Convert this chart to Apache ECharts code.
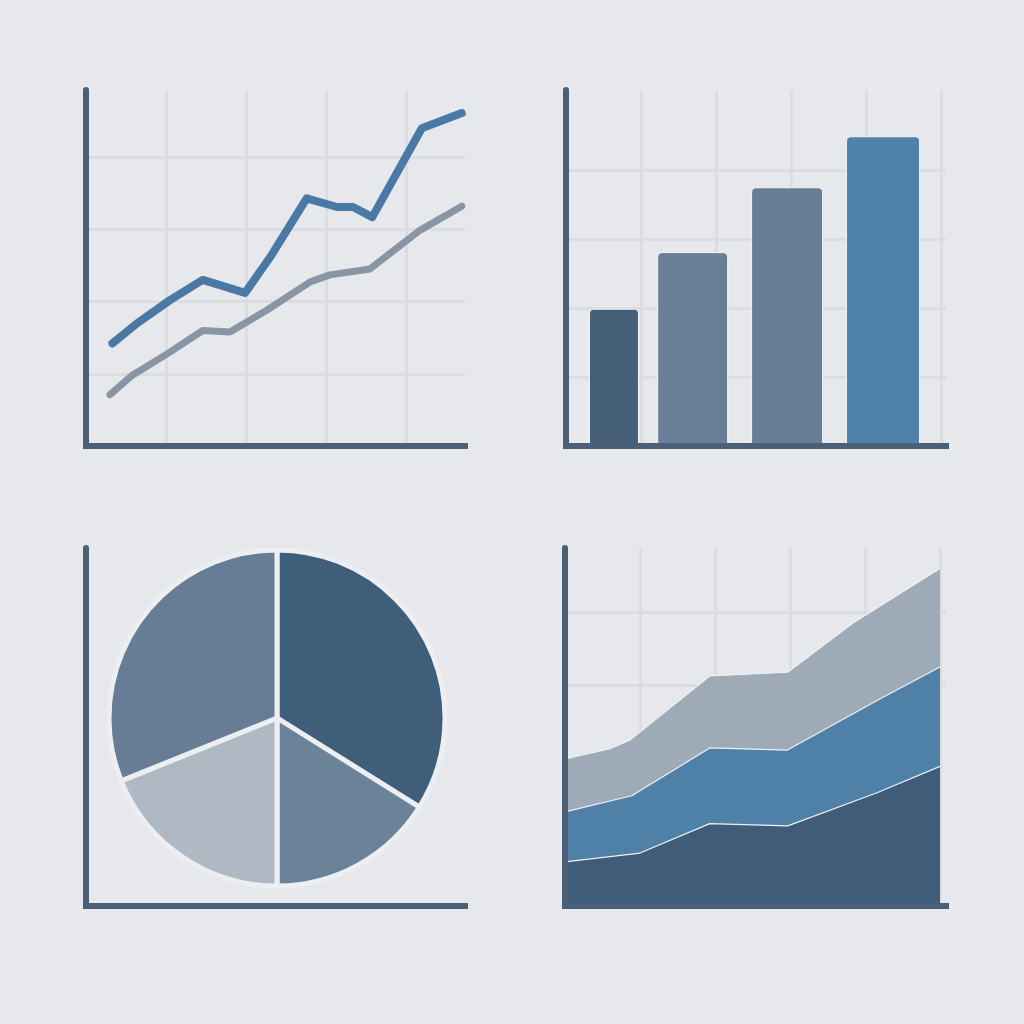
<!DOCTYPE html>
<html><head><meta charset="utf-8">
<script src="https://cdn.jsdelivr.net/npm/echarts@6/dist/echarts.min.js"></script>
<style>html,body{margin:0;padding:0;background:#e6e8eb}#c{width:1024px;height:1024px}</style>
</head><body><div id="c"></div>
<script>
// ---- data ----
const trendBlueX = [0.33, 0.64, 1.05, 1.46, 1.99, 2.30, 2.76, 3.14, 3.34, 3.58, 4.20, 4.70];
const trendBlueY = [1.42, 1.70, 2.02, 2.30, 2.12, 2.61, 3.43, 3.31, 3.31, 3.17, 4.40, 4.61];
const trendGrayX = [0.30, 0.58, 1.05, 1.46, 1.80, 2.26, 2.80, 3.05, 3.55, 4.18, 4.70];
const trendGrayY = [0.71, 0.98, 1.30, 1.60, 1.58, 1.88, 2.27, 2.37, 2.45, 2.99, 3.32];

const barX = [0.64, 1.69, 2.95, 4.23];
const barValues = [1.99, 2.81, 3.75, 4.49];

const pieValues = [33.9, 16.1, 18.9, 31.1];

const areaTopX = [0, 0.60, 0.87, 1.93, 2.97, 3.84, 5.00];
const areaTopY = [2.00, 2.14, 2.26, 3.13, 3.18, 3.85, 4.59];
const areaMidX = [0, 0.89, 1.93, 2.96, 4.24, 5.00];
const areaMidY = [1.28, 1.50, 2.15, 2.12, 2.84, 3.25];
const areaBaseX = [0, 1.00, 1.93, 2.97, 4.16, 5.00];
const areaBaseY = [0.60, 0.72, 1.12, 1.09, 1.54, 1.90];

// ---- styles ----
const AXIS = '#4b5f77', GRIDC = '#d8dbe0', NONE = 'rgba(0,0,0,0)';
const barColors = ['#465f78', '#687f97', '#687e95', '#4f81a9'];
const barWidths = [50, 71, 72, 74];
const pieColors = ['#3f5e79', '#6c8299', '#aeb9c4', '#667d95'];
const areaColors = ['#9eabb7', '#4f80a8', '#3f5d78'];

const zip = (xs, ys) => xs.map((x, i) => [x, ys[i]]);

const grids = [
  {left: 86, top: 90, width: 379, height: 356},
  {left: 566, top: 90, width: 380, height: 356},
  {left: 86, top: 548, width: 379, height: 358},
  {left: 565, top: 548, width: 381, height: 358}
].map(g => Object.assign({outerBoundsMode: 'none', containLabel: false}, g));

// visible split lines: which integer ticks get a grid line (others transparent)
const scales = [
  {xmax: 4.74, ymax: 4.93, xLines: [1, 2, 3, 4], yLines: [1, 2, 3, 4]},
  {xmax: 5.07, ymax: 5.16, xLines: [1, 2, 3, 4, 5], yLines: [1, 2, 3, 4]},
  {xmax: 1, ymax: 1, xLines: [], yLines: []},
  {xmax: 5.08, ymax: 4.87, xLines: [1, 2, 3, 4, 5], yLines: [3, 4]}
];

function lineColors(max, shown) {
  const ticks = [];
  for (let t = 0; t <= max + 1e-9; t++) ticks.push(t);
  if (Math.abs(ticks[ticks.length - 1] - max) > 1e-6) ticks.push(max);
  return ticks.map(t => shown.indexOf(t) >= 0 ? GRIDC : NONE);
}

const xAxes = [], yAxes = [], splitX = [], splitY = [];
const hidden = {axisLine: {show: false}, axisTick: {show: false}, axisLabel: {show: false}};
scales.forEach((s, g) => {
  splitX[g] = xAxes.length;
  xAxes.push(Object.assign({type: 'value', gridIndex: g, position: 'bottom', min: 0, max: s.xmax, interval: 1,
    splitLine: {show: s.xLines.length > 0, lineStyle: {color: lineColors(s.xmax, s.xLines), width: 2.5}}}, hidden));
  xAxes.push({type: 'value', gridIndex: g, position: 'bottom', offset: 0, min: 0, max: s.xmax, interval: 1, z: 10,
    axisLine: {show: true, onZero: false, lineStyle: {color: AXIS, width: 6, cap: 'square'}},
    axisTick: {show: false}, axisLabel: {show: false}, splitLine: {show: false}});
  splitY[g] = yAxes.length;
  yAxes.push(Object.assign({type: 'value', gridIndex: g, position: 'left', min: 0, max: s.ymax, interval: 1,
    splitLine: {show: s.yLines.length > 0, lineStyle: {color: lineColors(s.ymax, s.yLines), width: 2.5}}}, hidden));
  yAxes.push({type: 'value', gridIndex: g, position: 'left', offset: 0, min: 0, max: s.ymax, interval: 1, z: 10,
    axisLine: {show: true, onZero: false, lineStyle: {color: AXIS, width: 6}},
    axisTick: {show: false}, axisLabel: {show: false}, splitLine: {show: false}});
});

// hidden x axes for each bar (so each bar keeps its own width)
const barAxisIdx = barX.map(() => {
  const idx = xAxes.length;
  xAxes.push(Object.assign({type: 'value', gridIndex: 1, position: 'bottom', min: 0, max: scales[1].xmax, show: false,
    splitLine: {show: false}}, hidden));
  return idx;
});

const series = [];
// top-left lines
series.push({type: 'line', xAxisIndex: splitX[0], yAxisIndex: splitY[0], data: zip(trendGrayX, trendGrayY),
  symbol: 'none', lineStyle: {color: '#8795a5', width: 7, cap: 'round', join: 'round'}});
series.push({type: 'line', xAxisIndex: splitX[0], yAxisIndex: splitY[0], data: zip(trendBlueX, trendBlueY),
  symbol: 'none', lineStyle: {color: '#4a79a5', width: 8, cap: 'round', join: 'round'}});
// top-right bars
barX.forEach((x, i) => {
  series.push({type: 'bar', xAxisIndex: barAxisIdx[i], yAxisIndex: splitY[1], barWidth: barWidths[i],
    data: [[x, barValues[i]]],
    itemStyle: {color: barColors[i], borderColor: '#f2f4f6', borderWidth: 1, borderRadius: [4, 4, 0, 0]}});
});
// bottom-left pie
series.push({type: 'pie', center: [277, 718], radius: 168, startAngle: 90, clockwise: true,
  label: {show: false}, labelLine: {show: false}, silent: true,
  itemStyle: {borderColor: '#eceef1', borderWidth: 5},
  data: pieValues.map((v, i) => ({value: v, itemStyle: {color: pieColors[i]}}))});
// bottom-right areas
[[areaTopX, areaTopY], [areaMidX, areaMidY], [areaBaseX, areaBaseY]].forEach(([xs, ys], i) => {
  series.push({type: 'line', xAxisIndex: splitX[3], yAxisIndex: splitY[3], data: zip(xs, ys),
    symbol: 'none', lineStyle: {color: '#eef1f4', width: 1.2},
    areaStyle: {color: areaColors[i], opacity: 1}});
});

const chart = echarts.init(document.getElementById('c'), null, {renderer: 'canvas'});
chart.setOption({
  backgroundColor: '#e6e8eb',
  animation: false,
  grid: grids,
  xAxis: xAxes,
  yAxis: yAxes,
  series: series
});
</script>
</body></html>
